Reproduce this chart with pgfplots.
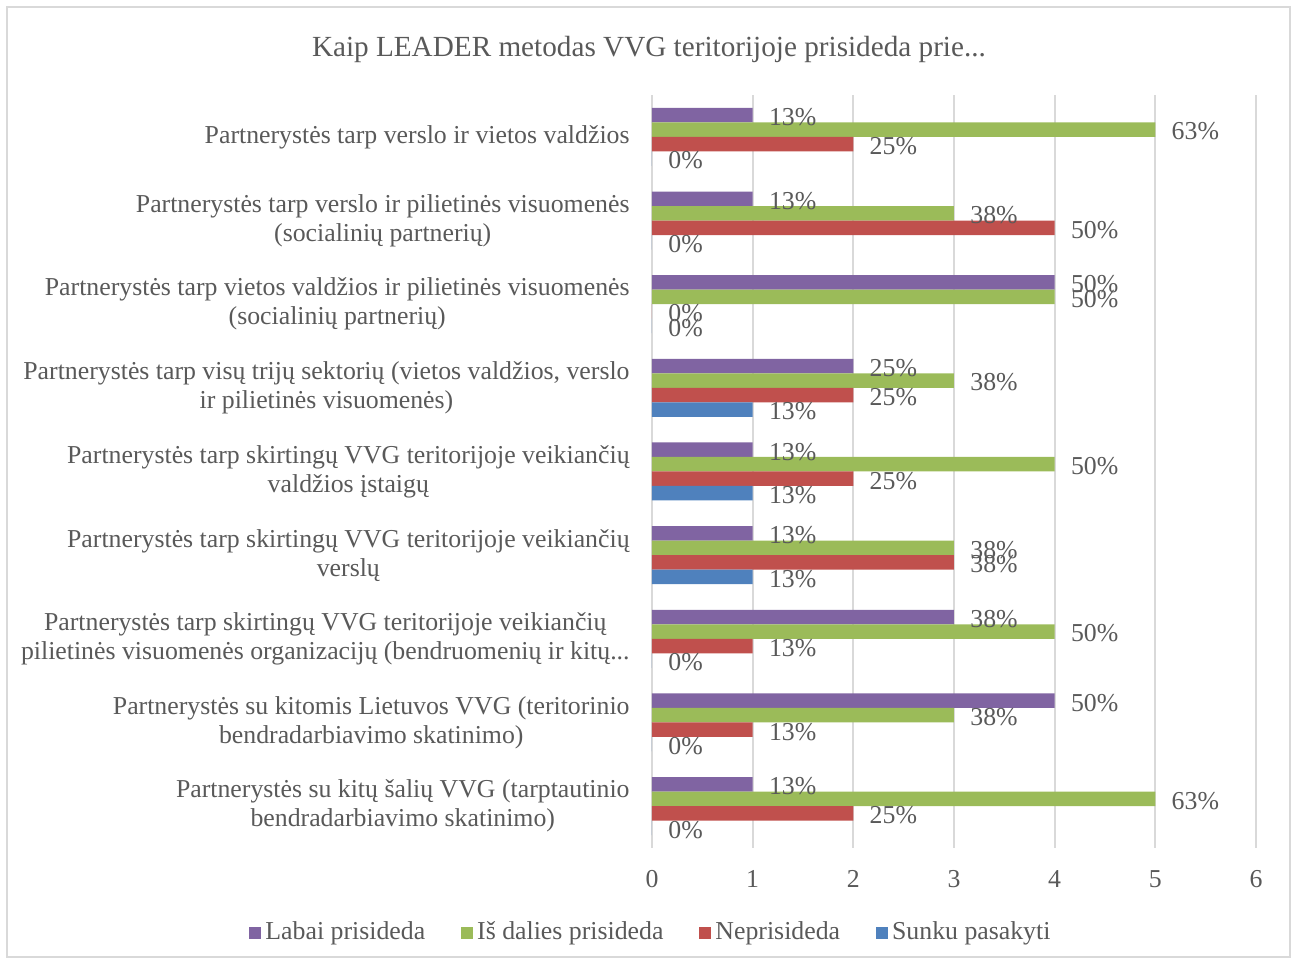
\documentclass[border=0pt]{standalone}
\usepackage{fontspec}
\setmainfont{Liberation Serif}
\usepackage{pgfplots}
\pgfplotsset{compat=1.18}
\usepackage{pgfplotstable}
\definecolor{txt}{HTML}{595959}
\definecolor{gridc}{HTML}{D9D9D9}
\definecolor{cpur}{HTML}{8064A2}
\definecolor{cgre}{HTML}{9BBB59}
\definecolor{cred}{HTML}{C0504D}
\definecolor{cblu}{HTML}{4F81BD}

\pgfplotstableread{
y x lab
8 1 13
7 1 13
6 4 50
5 2 25
4 1 13
3 1 13
2 3 38
1 4 50
0 1 13
}\labai
\pgfplotstableread{
y x lab
8 5 63
7 3 38
6 4 50
5 3 38
4 4 50
3 3 38
2 4 50
1 3 38
0 5 63
}\isdalies
\pgfplotstableread{
y x lab
8 2 25
7 4 50
6 0 0
5 2 25
4 2 25
3 3 38
2 1 13
1 1 13
0 2 25
}\nepris
\pgfplotstableread{
y x lab
8 0 0
7 0 0
6 0 0
5 1 13
4 1 13
3 1 13
2 0 0
1 0 0
0 0 0
}\sunku

\pgfplotsset{sq/.style={legend image code/.code={\fill[##1] (0pt,-3pt) rectangle (6pt,3pt);}}}
\newcommand{\dotsx}{.\kern0pt.\kern0pt.}

\begin{document}
\fontsize{12.9}{14.5}\selectfont
\begin{tikzpicture}
\useasboundingbox (-326pt,-56.5pt) rectangle (320pt,424pt);
\begin{axis}[
  at={(0,0)}, anchor=south west,
  scale only axis, width=302pt, height=376.5pt,
  xbar, bar width=7.25pt,
  xmin=0, xmax=6, ymin=-0.5, ymax=8.5,
  xtick={0,1,2,3,4,5,6}, ytick={0,1,2,3,4,5,6,7,8},
  yticklabels={
    {Partnerystės su kitų šalių VVG (tarptautinio\\bendradarbiavimo skatinimo)},
    {Partnerystės su kitomis Lietuvos VVG (teritorinio\\bendradarbiavimo skatinimo)},
    {Partnerystės tarp skirtingų VVG teritorijoje veikiančių\\pilietinės visuomenės organizacijų (bendruomenių ir kitų\dotsx},
    {Partnerystės tarp skirtingų VVG teritorijoje veikiančių\\verslų},
    {Partnerystės tarp skirtingų VVG teritorijoje veikiančių\\valdžios įstaigų},
    {Partnerystės tarp visų trijų sektorių (vietos valdžios, verslo\\ir pilietinės visuomenės)},
    {Partnerystės tarp vietos valdžios ir pilietinės visuomenės\\(socialinių partnerių)},
    {Partnerystės tarp verslo ir pilietinės visuomenės\\(socialinių partnerių)},
    {Partnerystės tarp verslo ir vietos valdžios}},
  xmajorgrids, major grid style={gridc, line width=1pt},
  axis line style={draw=none}, major tick length=0pt,
  /pgf/number format/assume math mode=true,
  tick label style={text=txt},
  yticklabel style={align=center, anchor=east, inner sep=0pt, xshift=-11pt},
  xticklabel style={anchor=north, inner sep=0pt, yshift=-11pt},
  point meta=explicit symbolic,
  nodes near coords={\pgfplotspointmeta\%},
  nodes near coords style={anchor=west, inner sep=0pt, xshift=8pt, yshift=-1pt, text=txt},
  title={Kaip LEADER metodas VVG teritorijoje prisideda prie\dotsx},
  title style={at={(-0.005,1.0451)}, anchor=center, font=\fontsize{14.6}{17}\selectfont, text=txt},
  legend columns=4,
  legend style={at={(0.0,-0.1125)}, anchor=center, draw=none, fill=none, text=txt,
    /tikz/every even column/.append style={column sep=16pt}},
]
\addplot[fill=cpur, draw=none, bar shift=10.875pt, sq] table[x=x, y=y, meta=lab] {\labai};
\addplot[fill=cgre, draw=none, bar shift=3.625pt, sq] table[x=x, y=y, meta=lab] {\isdalies};
\addplot[fill=cred, draw=none, bar shift=-3.625pt, sq] table[x=x, y=y, meta=lab] {\nepris};
\addplot[fill=cblu, draw=none, bar shift=-10.875pt, sq] table[x=x, y=y, meta=lab] {\sunku};
\legend{Labai prisideda, Iš dalies prisideda, Neprisideda, Sunku pasakyti}
\end{axis}
\draw[gridc, line width=0.75pt] (-322.5pt,-54.5pt) rectangle (319pt,420.5pt);
\end{tikzpicture}
\end{document}
